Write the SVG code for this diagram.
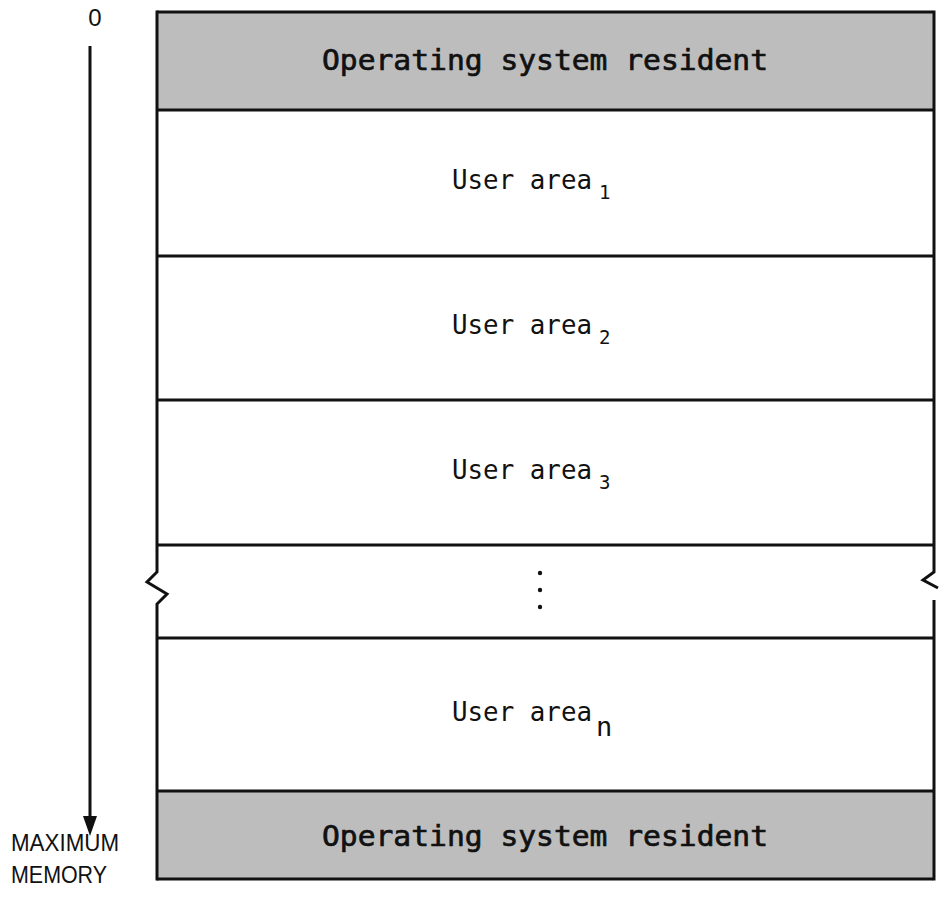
<svg xmlns="http://www.w3.org/2000/svg" width="939" height="908" viewBox="0 0 939 908">
  <style>
    .frame { fill: none; stroke: #111; stroke-width: 3; }
    .div { stroke: #111; stroke-width: 3; }
    .shade { fill: #bdbdbd; }
    .os { font-family: "DejaVu Sans Mono", "Liberation Mono", monospace; font-size: 29px; fill: #111; stroke: #111; stroke-width: 0.7; text-anchor: middle; }
    .ua { font-family: "DejaVu Sans Mono", "Liberation Mono", monospace; font-size: 27px; fill: #111; }
    .sub { font-family: "DejaVu Sans Mono", "Liberation Mono", monospace; font-size: 19px; fill: #111; }
    .lbl { font-family: "Liberation Sans", Arial, sans-serif; font-size: 24px; fill: #111; }
  </style>

  <!-- address axis -->
  <g id="axis">
    <text class="lbl" x="95" y="26" text-anchor="middle" font-size="27">0</text>
    <line x1="90" y1="46" x2="90" y2="818" stroke="#111" stroke-width="3"/>
    <path d="M83,816 L97,816 L90,836 Z" fill="#111"/>
    <text class="lbl" x="11" y="851" textLength="108" lengthAdjust="spacingAndGlyphs">MAXIMUM</text>
    <text class="lbl" x="11" y="883" textLength="96" lengthAdjust="spacingAndGlyphs">MEMORY</text>
  </g>

  <!-- resident OS, low end -->
  <g id="os-top">
    <rect class="shade" x="157" y="12" width="776" height="98"/>
    <text class="os" x="545" y="70" textLength="446" lengthAdjust="spacingAndGlyphs">Operating system resident</text>
  </g>

  <g id="user1">
    <text class="ua" x="452" y="189" textLength="140" lengthAdjust="spacingAndGlyphs">User area</text>
    <text class="sub" x="599" y="199">1</text>
  </g>
  <g id="user2">
    <text class="ua" x="452" y="334" textLength="140" lengthAdjust="spacingAndGlyphs">User area</text>
    <text class="sub" x="599" y="344">2</text>
  </g>
  <g id="user3">
    <text class="ua" x="452" y="479" textLength="140" lengthAdjust="spacingAndGlyphs">User area</text>
    <text class="sub" x="599" y="489">3</text>
  </g>
  <g id="ellipsis">
    <circle cx="540" cy="573" r="2.2" fill="#111"/>
    <circle cx="540" cy="590" r="2.2" fill="#111"/>
    <circle cx="540" cy="607" r="2.2" fill="#111"/>
  </g>
  <g id="usern">
    <text class="ua" x="452" y="721" textLength="140" lengthAdjust="spacingAndGlyphs">User area</text>
    <text class="ua" x="596" y="736">n</text>
  </g>

  <!-- resident OS, high end -->
  <g id="os-bottom">
    <rect class="shade" x="157" y="791" width="776" height="88"/>
    <text class="os" x="545" y="846" textLength="446" lengthAdjust="spacingAndGlyphs">Operating system resident</text>
  </g>

  <!-- outline, partition boundaries and break marks -->
  <g id="connectors">
    <line class="div" x1="157" y1="12" x2="933" y2="12"/>
    <line class="div" x1="157" y1="879" x2="933" y2="879"/>
    <line class="div" x1="157" y1="110" x2="933" y2="110"/>
    <line class="div" x1="157" y1="256" x2="933" y2="256"/>
    <line class="div" x1="157" y1="400" x2="933" y2="400"/>
    <line class="div" x1="157" y1="545" x2="933" y2="545"/>
    <line class="div" x1="157" y1="638" x2="933" y2="638"/>
    <line class="div" x1="157" y1="791" x2="933" y2="791"/>
    <path class="frame" d="M157,10.5 L157,572 L147,582 L167,594 L157,604 L157,880.5"/>
    <path class="frame" d="M934,10.5 L934,572 L923,580 L938,588"/>
    <path class="frame" d="M934,600 L934,880.5"/>
  </g>
</svg>
